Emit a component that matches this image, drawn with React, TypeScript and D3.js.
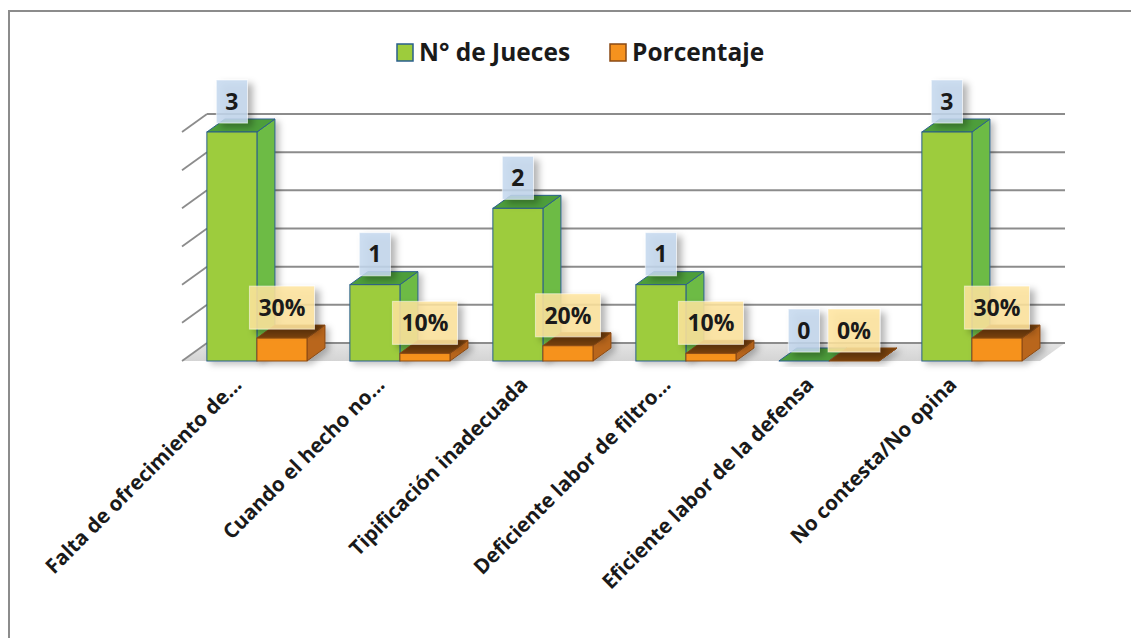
import React from "react";
import * as d3 from "d3";

const categories = [
  "Falta de ofrecimiento de...",
  "Cuando el hecho no...",
  "Tipificación inadecuada",
  "Deficiente labor de filtro...",
  "Eficiente labor de la defensa",
  "No contesta/No opina",
];
const jueces = [3, 1, 2, 1, 0, 3];
const porcentaje = [0.3, 0.1, 0.2, 0.1, 0, 0.3];
const seriesNames = ["N° de Jueces", "Porcentaje"];
const yTicks = [0, 0.5, 1, 1.5, 2, 2.5, 3];

const W = 1131;
const H = 638;
const FONT = "'Open Sans', Lato, sans-serif";

const styles = [
  { front: "#9dcc3c", side: "#6dbb44", top: "#4e9e3a", stroke: "#2a5f8c", box: "#c4d8ee" },
  { front: "#f6921e", side: "#b9661d", top: "#7a420f", stroke: "#8a4a14", box: "#ffe59d" },
];

function measure(text: string, size: number) {
  const c = document.createElement("canvas").getContext("2d");
  if (!c) return text.length * size * 0.6;
  c.font = `bold ${size}px ${FONT}`;
  return c.measureText(text).width;
}

export default function App() {
  const x = d3
    .scaleBand<number>()
    .domain(d3.range(categories.length))
    .range([182, 1040])
    .paddingInner(0.3)
    .paddingOuter(0.15)
    .align(0.58);
  const xs = d3.scaleBand<number>().domain([0, 1]).range([0, x.bandwidth()]);
  const y = d3.scaleLinear().domain([0, 3]).range([361, 132]);
  const DX = 25, DY = -18; // wall depth
  const BX = 18, BY = -13; // bar depth
  const pct = d3.format(".0%");
  const series = [jueces, porcentaje];
  const labelSize = 23;

  const pts = (p: number[][]) => p.map((d) => d.join(",")).join(" ");

  const x0 = x.range()[0];
  const x1 = x.range()[1];
  const yb = y(0);

  return (
    <svg width={W} height={H} style={{ position: "absolute", left: 0, top: 0, background: "#fff" }}>
      <defs>
        <filter id="sh" x="-40%" y="-40%" width="200%" height="200%">
          <feDropShadow dx="5" dy="4" stdDeviation="3.5" floodColor="#000" floodOpacity="0.35" />
        </filter>
        <filter id="bsh" x="-20%" y="-20%" width="160%" height="160%">
          <feDropShadow dx="4" dy="3" stdDeviation="3" floodColor="#000" floodOpacity="0.25" />
        </filter>
        <linearGradient id="floor" x1="0" y1="0" x2="0" y2="1">
          <stop offset="0" stopColor="#e4e4e4" />
          <stop offset="1" stopColor="#d4d4d4" />
        </linearGradient>
      </defs>
      <rect x={9} y={11} width={1200} height={700} fill="#fff" stroke="#8c8c8c" strokeWidth={2} />

      {/* floor */}
      <polygon
        points={pts([[x0, yb], [x1, yb], [x1 + DX, yb + DY], [x0 + DX, yb + DY]])}
        fill="url(#floor)"
      />
      {/* gridlines on back wall and side */}
      {yTicks.map((t) => (
        <g key={t}>
          <line x1={x0 + DX} x2={x1 + DX} y1={y(t) + DY} y2={y(t) + DY} stroke="#8c8c8c" strokeWidth={2} />
          <line x1={x0} x2={x0 + DX} y1={y(t)} y2={y(t) + DY} stroke="#8c8c8c" strokeWidth={1.8} />
        </g>
      ))}

      {/* bars */}
      {categories.map((c, i) => (
        <g key={c}>
          {series.map((vals, s) => {
            const st = styles[s];
            const bx0 = (x(i) as number) + (xs(s) as number);
            const bx1 = bx0 + xs.bandwidth();
            const yt = y(vals[i]);
            return (
              <g key={s} filter="url(#bsh)">
                <polygon
                  points={pts([[bx1, yt], [bx1 + BX, yt + BY], [bx1 + BX, yb + BY], [bx1, yb]])}
                  fill={st.side}
                  stroke={st.stroke}
                  strokeWidth={1}
                  strokeLinejoin="round"
                />
                <polygon
                  points={pts([[bx0, yt], [bx1, yt], [bx1 + BX, yt + BY], [bx0 + BX, yt + BY]])}
                  fill={st.top}
                  stroke={st.stroke}
                  strokeWidth={1}
                  strokeLinejoin="round"
                />
                {vals[i] > 0 && (
                  <rect x={bx0} y={yt} width={bx1 - bx0} height={yb - yt} fill={st.front} stroke={st.stroke} strokeWidth={1} />
                )}
              </g>
            );
          })}
        </g>
      ))}

      {/* data labels */}
      {categories.map((c, i) => (
        <g key={"l" + c}>
          {series.map((vals, s) => {
            const st = styles[s];
            const text = s === 0 ? String(vals[i]) : pct(vals[i]);
            const cx = (x(i) as number) + (xs(s) as number) + xs.bandwidth() / 2;
            const tw = measure(text, labelSize);
            const bw = tw + 18;
            const bh = 43;
            const bBottom = y(vals[i]) - 9;
            return (
              <g key={s}>
                <rect
                  x={cx - bw / 2}
                  y={bBottom - bh}
                  width={bw}
                  height={bh}
                  fill={st.box}
                  fillOpacity={0.85}
                  stroke="#fff"
                  strokeOpacity={0.5}
                  strokeWidth={1}
                  filter="url(#sh)"
                />
                <text
                  x={cx}
                  y={bBottom - bh / 2}
                  dy="0.36em"
                  textAnchor="middle"
                  fontFamily={FONT}
                  fontWeight="bold"
                  fontSize={labelSize}
                  fill="#1a1a1a"
                >
                  {text}
                </text>
              </g>
            );
          })}
        </g>
      ))}

      {/* category labels */}
      {categories.map((c, i) => {
        const cx = (x(i) as number) + x.bandwidth() / 2;
        return (
          <text
            key={"c" + c}
            transform={`translate(${cx - 14},${yb + 25}) rotate(-45)`}
            textAnchor="end"
            fontFamily={FONT}
            fontWeight="bold"
            fontSize={20.5}
            fill="#1a1a1a"
          >
            {c}
          </text>
        );
      })}

      {/* legend */}
      {seriesNames.map((n, s) => {
        const lx = s === 0 ? 397 : 610;
        return (
          <g key={n}>
            <rect x={lx} y={44} width={16} height={17} fill={styles[s].front} stroke={styles[s].stroke} strokeWidth={1.5} />
            <text x={lx + 22} y={61} fontFamily={FONT} fontWeight="bold" fontSize={24.5} fill="#1a1a1a">
              {n}
            </text>
          </g>
        );
      })}
    </svg>
  );
}
